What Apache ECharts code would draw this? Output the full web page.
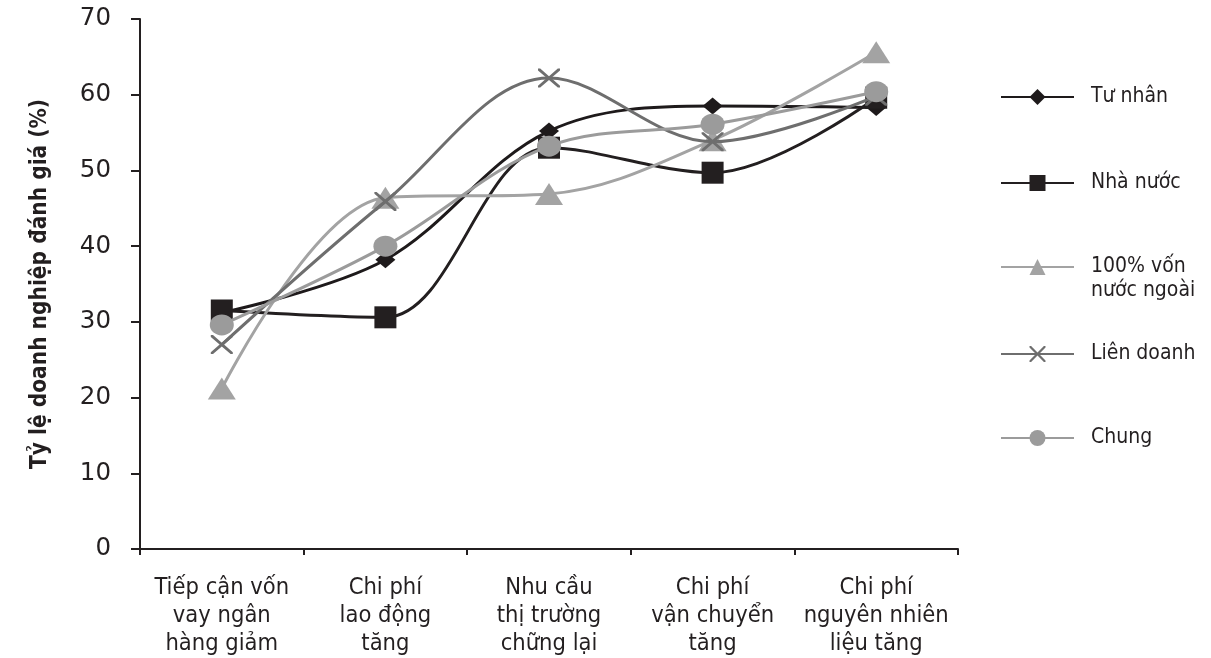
<!DOCTYPE html>
<html>
<head>
<meta charset="utf-8">
<script src="https://cdn.jsdelivr.net/npm/echarts@6/dist/echarts.min.js"></script>
<style>
html,body{margin:0;padding:0;background:#fff;}
#c{width:1211px;height:658px;}
</style>
</head>
<body>
<div id="c"></div>
<script>
const categories = ['Tiếp cận vốn\nvay ngân\nhàng giảm', 'Chi phí\nlao động\ntăng', 'Nhu cầu\nthị trường\nchững lại', 'Chi phí\nvận chuyển\ntăng', 'Chi phí\nnguyên nhiên\nliệu tăng'];
const tuNhan = [31.2, 38.2, 55.2, 58.5, 58.3];
const nhaNuoc = [31.5, 30.6, 53.0, 49.7, 59.6];
const vonNuocNgoai = [21.2, 46.4, 46.9, 54.0, 65.6];
const lienDoanh = [27.0, 45.9, 62.2, 53.8, 59.8];
const chung = [29.6, 40.0, 53.2, 56.1, 60.4];
const seriesNames = ['Tư nhân', 'Nhà nước', '100% vốn nước ngoài', 'Liên doanh', 'Chung'];
const yTicks = [0, 10, 20, 30, 40, 50, 60, 70];
const yName = 'Tỷ lệ doanh nghiệp đánh giá (%)';

const FONT = '"DejaVu Sans Condensed", "DejaVu Sans", sans-serif';
const xPath = 'path://M0,0 L2,0 L10,8 L18,0 L20,0 L20,2 L12,10 L20,18 L20,20 L18,20 L10,12 L2,20 L0,20 L0,18 L8,10 L0,2 Z';

const styles = [
  {color: '#1e1a1b', symbol: 'diamond', size: [20, 17], data: tuNhan},
  {color: '#231f20', symbol: 'rect', size: 22, data: nhaNuoc},
  {color: '#a3a3a3', symbol: 'triangle', size: [28, 22], data: vonNuocNgoai},
  {color: '#6e6e6e', symbol: xPath, size: [22, 19], data: lienDoanh},
  {color: '#9b9b9b', symbol: 'circle', size: [24, 21], data: chung}
];

const legendTops = [85, 171, 231, 342, 426];

const chart = echarts.init(document.getElementById('c'));
chart.setOption({
  animation: false,
  backgroundColor: '#ffffff',
  grid: {left: 140, right: 253, top: 19, bottom: 109, containLabel: false},
  xAxis: {
    type: 'category',
    data: categories,
    boundaryGap: true,
    axisLine: {lineStyle: {color: '#231f20', width: 2}},
    axisTick: {show: true, length: 6, lineStyle: {color: '#231f20', width: 2}},
    axisLabel: {fontFamily: FONT, fontSize: 23.5, color: '#231f20', lineHeight: 28, margin: 25, interval: 0}
  },
  yAxis: {
    type: 'value',
    min: yTicks[0],
    max: yTicks[yTicks.length - 1],
    interval: 10,
    name: yName,
    nameLocation: 'middle',
    nameRotate: 90,
    nameGap: 88,
    nameTextStyle: {fontFamily: FONT, fontWeight: 'bold', fontSize: 22.5, color: '#231f20'},
    axisLine: {show: true, lineStyle: {color: '#231f20', width: 2}},
    axisTick: {show: true, length: 9, lineStyle: {color: '#231f20', width: 2}},
    splitLine: {show: false},
    axisLabel: {fontFamily: '"DejaVu Sans", sans-serif', fontSize: 24.5, color: '#231f20', margin: 29}
  },
  legend: seriesNames.map((n, i) => ({
    data: [n],
    orient: 'vertical',
    left: 1000,
    top: legendTops[i],
    itemWidth: 73,
    itemHeight: 20,
    padding: 0,
    lineStyle: {width: 2},
    formatter: (name) => name === '100% vốn nước ngoài' ? '\n100% vốn\nnước ngoài' : name,
    textStyle: {
      fontFamily: FONT, fontSize: 21, color: '#231f20', lineHeight: 24,
      padding: [0, 0, 0, 12]
    }
  })),
  series: styles.map((s, i) => ({
    name: seriesNames[i],
    type: 'line',
    data: s.data,
    smooth: 0.35,
    symbol: s.symbol,
    symbolSize: s.size,
    showSymbol: true,
    lineStyle: {color: s.color, width: 3},
    itemStyle: {color: s.color, borderWidth: 0},
    emphasis: {disabled: true},
    z: 2 + i
  }))
});
</script>
</body>
</html>
